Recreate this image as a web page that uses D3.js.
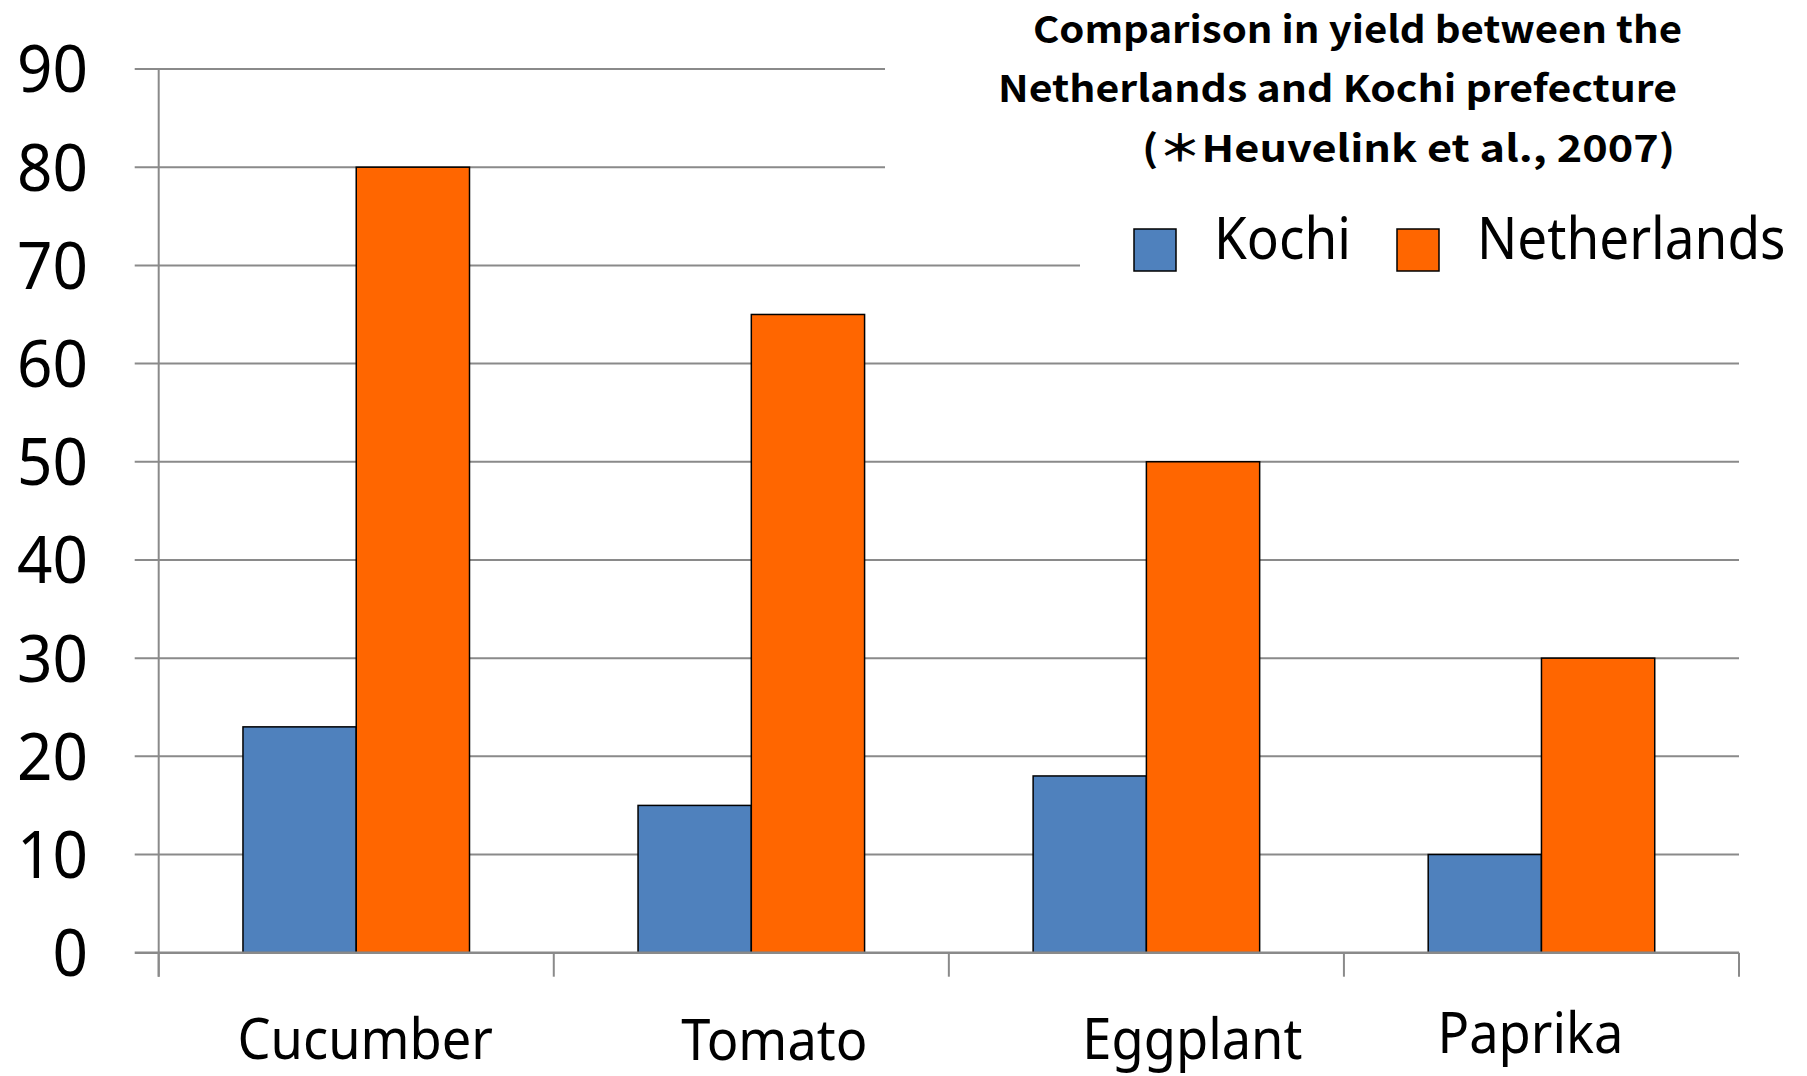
<!DOCTYPE html>
<html>
<head>
<meta charset="utf-8">
<script src="https://cdn.jsdelivr.net/npm/d3@7"></script>
<style>
  html, body { margin: 0; padding: 0; background: #fff; }
  svg { display: block; }
</style>
</head>
<body>
<div id="chart"></div>
<script>
// ---- data ----
const categories = ["Cucumber", "Tomato", "Eggplant", "Paprika"];
const seriesNames = ["Kochi", "Netherlands"];
const kochiYield = [23, 15, 18, 10];
const netherlandsYield = [80, 65, 50, 30];
const yTickValues = [0, 10, 20, 30, 40, 50, 60, 70, 80, 90];
const titleLines = [
  "Comparison in yield between the",
  "Netherlands and Kochi prefecture",
  "(＊Heuvelink et al., 2007)"
];

(function () {
  const W = 1807, H = 1076;
  const plot = { left: 158.7, right: 1739, top: 69, bottom: 952.7 };

  const colors = d3.scaleOrdinal()
    .domain(seriesNames)
    .range(["#4f81bd", "#ff6600"]);

  const gridColor = "#8a8a8a";
  // Calibri-ish look: Noto Sans squeezed a little
  const bodyFont = "'Noto Sans', 'Open Sans', sans-serif";
  const squeeze = 0.9;

  const svg = d3.select("#chart").append("svg")
    .attr("width", W)
    .attr("height", H);

  svg.append("rect").attr("width", W).attr("height", H).attr("fill", "#fff");

  const y = d3.scaleLinear().domain([0, 90]).range([plot.bottom, plot.top]);
  const x = d3.scaleBand().domain(categories).range([plot.left, plot.right]).padding(0);
  const bw = x.bandwidth();
  const gap = bw * 0.2133;
  const xInner = d3.scaleBand().domain(seriesNames).range([gap, bw - gap]).padding(0);

  // Gridlines (with the little stubs left of the axis)
  svg.append("g")
    .selectAll("line")
    .data(yTickValues.filter(v => v > 0))
    .join("line")
    .attr("x1", plot.left - 24)
    .attr("x2", plot.right)
    .attr("y1", d => y(d))
    .attr("y2", d => y(d))
    .attr("stroke", gridColor)
    .attr("stroke-width", 2);

  // Title / legend boxes are opaque in the original and hide the gridlines behind them
  svg.append("rect").attr("x", 885).attr("y", 0).attr("width", W - 885).attr("height", 200).attr("fill", "#fff");
  svg.append("rect").attr("x", 1080).attr("y", 200).attr("width", W - 1080).attr("height", 120).attr("fill", "#fff");

  // Bars
  const rows = categories.map((c, i) => ({
    cat: c,
    values: [
      { key: "Kochi", value: kochiYield[i] },
      { key: "Netherlands", value: netherlandsYield[i] }
    ]
  }));

  svg.append("g")
    .selectAll("g")
    .data(rows)
    .join("g")
    .attr("transform", d => `translate(${x(d.cat)},0)`)
    .selectAll("rect")
    .data(d => d.values)
    .join("rect")
    .attr("x", d => xInner(d.key))
    .attr("width", xInner.bandwidth())
    .attr("y", d => y(d.value))
    .attr("height", d => y(0) - y(d.value))
    .attr("fill", d => colors(d.key))
    .attr("stroke", "#000")
    .attr("stroke-width", 1.5);

  // Axes: vertical axis line, zero line, category ticks
  svg.append("line")
    .attr("x1", plot.left).attr("x2", plot.left)
    .attr("y1", plot.top).attr("y2", plot.bottom + 24)
    .attr("stroke", gridColor).attr("stroke-width", 2);

  svg.append("line")
    .attr("x1", plot.left - 24).attr("x2", plot.right)
    .attr("y1", y(0)).attr("y2", y(0))
    .attr("stroke", gridColor).attr("stroke-width", 2.6);

  svg.append("g")
    .selectAll("line")
    .data(categories.map(c => x(c)).concat([plot.right]))
    .join("line")
    .attr("x1", d => d).attr("x2", d => d)
    .attr("y1", y(0)).attr("y2", plot.bottom + 24)
    .attr("stroke", gridColor).attr("stroke-width", 2);

  // Y tick labels
  svg.append("g")
    .selectAll("text")
    .data(yTickValues)
    .join("text")
    .attr("transform", d => `translate(88,${y(d)}) scale(${squeeze + 0.04},1)`)
    .attr("dy", "0.355em")
    .attr("text-anchor", "end")
    .attr("font-family", bodyFont)
    .attr("font-size", 66)
    .attr("fill", "#000")
    .text(d => d);

  // Category labels (hand-placed text boxes in the original, so slightly off-centre)
  const labelDx = [9, 23, 46, -11];
  const labelDy = [0, 1, 0, -6];
  svg.append("g")
    .selectAll("text")
    .data(categories)
    .join("text")
    .attr("transform", (d, i) =>
      `translate(${x(d) + bw / 2 + labelDx[i]},${1059 + labelDy[i]}) scale(${squeeze + 0.02},1)`)
    .attr("text-anchor", "middle")
    .attr("font-family", bodyFont)
    .attr("font-size", 57)
    .attr("fill", "#000")
    .text(d => d);

  // Legend
  const legendX = [1134, 1397];
  const legend = svg.append("g")
    .selectAll("g")
    .data(seriesNames)
    .join("g")
    .attr("transform", (d, i) => `translate(${legendX[i]},229)`);

  legend.append("rect")
    .attr("width", 42).attr("height", 42)
    .attr("fill", d => colors(d))
    .attr("stroke", "#000").attr("stroke-width", 1.5);

  legend.append("text")
    .attr("transform", `translate(80,30) scale(${squeeze},1)`)
    .attr("font-family", bodyFont)
    .attr("font-size", 59)
    .attr("fill", "#000")
    .text(d => d);

  // Title block (bold gothic)
  const titleX = [1033, 998, 1142];
  const titleY = [43, 102, 162];
  const titleW = [649, 679, 533];
  svg.append("g")
    .selectAll("text")
    .data(titleLines)
    .join("text")
    .attr("x", (d, i) => titleX[i])
    .attr("y", (d, i) => titleY[i])
    .attr("textLength", (d, i) => titleW[i])
    .attr("lengthAdjust", "spacingAndGlyphs")
    .attr("font-family", "'Noto Sans CJK JP', 'Noto Sans', sans-serif")
    .attr("font-weight", 700)
    .attr("font-size", 37)
    .attr("fill", "#000")
    .text(d => d);
})();
</script>
</body>
</html>
